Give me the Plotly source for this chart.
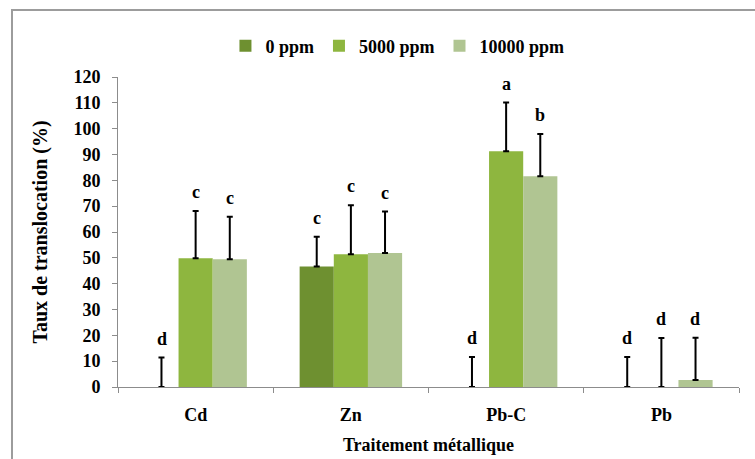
import plotly.graph_objects as go

categories = ["Cd", "Zn", "Pb-C", "Pb"]
series_names = ["0 ppm", "5000 ppm", "10000 ppm"]
values_0 = [0, 46.6, 0, 0]
values_5000 = [49.8, 51.4, 91.3, 0]
values_10000 = [49.5, 51.9, 81.6, 2.7]
err_0 = [11.4, 11.6, 11.6, 11.6]
err_5000 = [18.3, 19.0, 18.8, 19.0]
err_10000 = [16.4, 16.0, 16.3, 16.4]
letters_0 = ["d", "c", "d", "d"]
letters_5000 = ["c", "c", "a", "d"]
letters_10000 = ["c", "c", "b", "d"]

colors = ["#6E9030", "#8EB63F", "#B0C592"]
font_family = "Liberation Serif"

values = [values_0, values_5000, values_10000]
errs = [err_0, err_5000, err_10000]
letters = [letters_0, letters_5000, letters_10000]

fig = go.Figure()
for name, v, e, c in zip(series_names, values, errs, colors):
    fig.add_trace(go.Bar(
        name=name, x=categories, y=v, marker_color=c, marker_line_width=0,
        error_y=dict(type="data", array=e, symmetric=False,
                     arrayminus=[0] * len(e), color="black", thickness=2, width=3),
    ))

bar_px = 34
annotations = []
for i, (v, e, l) in enumerate(zip(values, errs, letters)):
    for cat, vi, ei, li in zip(categories, v, e, l):
        annotations.append(dict(
            x=cat, y=vi + ei, text="<b>%s</b>" % li, showarrow=False,
            xshift=(i - 1) * bar_px, yshift=19,
            font=dict(family=font_family, size=18, color="black"),
        ))

fig.update_layout(
    width=755, height=459,
    margin=dict(l=118, r=16, t=77, b=72),
    paper_bgcolor="white", plot_bgcolor="white",
    barmode="group", bargap=0.34, bargroupgap=0,
    font=dict(family=font_family, color="black"),
    annotations=annotations,
    legend=dict(orientation="h", x=0.45, xanchor="center", y=1.1, yanchor="middle",
                font=dict(family=font_family, size=18, color="black", weight="bold"),
                itemwidth=30, traceorder="normal"),
    shapes=[dict(type="rect", xref="paper", yref="paper",
                 x0=-0.1707, x1=1.2, y0=-0.5, y1=1.216,
                 line=dict(color="#9C9C9C", width=2), layer="below")],
)
fig.update_yaxes(
    range=[0, 120], tickvals=list(range(0, 121, 10)), automargin=False,
    showgrid=False, zeroline=False, showline=True, linecolor="#8C8C8C", linewidth=1,
    ticks="outside", ticklen=5, tickcolor="#8C8C8C", ticklabelstandoff=8,
    tickfont=dict(family=font_family, size=18, color="black", weight="bold"),
    title=dict(text="<b>Taux de translocation (%)</b>", standoff=20,
               font=dict(family=font_family, size=20, color="black")),
)
fig.update_xaxes(
    automargin=False,
    showgrid=False, showline=True, linecolor="#8C8C8C", linewidth=1,
    ticks="outside", tickson="boundaries", ticklen=5, tickcolor="#8C8C8C",
    ticklabelstandoff=11,
    tickfont=dict(family=font_family, size=18, color="black", weight="bold"),
    title=dict(text="<b>Traitement métallique</b>", standoff=14,
               font=dict(family=font_family, size=18, color="black")),
)

fig.write_html("out.html")
